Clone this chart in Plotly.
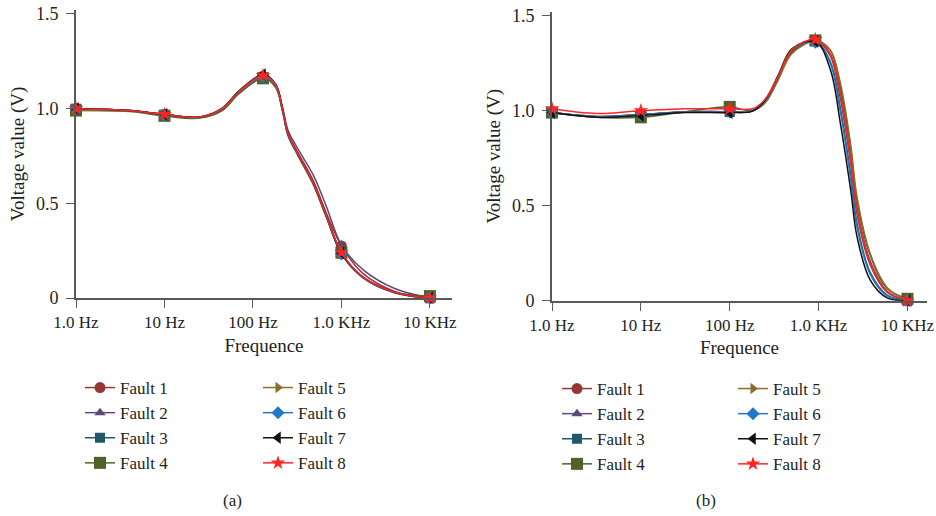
import plotly.graph_objects as go

# ---------------- data ----------------
fault_names = ["Fault 1", "Fault 2", "Fault 3", "Fault 4", "Fault 5", "Fault 6", "Fault 7", "Fault 8"]
tick_freqs = [1, 10, 100, 1000, 10000]
tick_labels = ["1.0 Hz", "10 Hz", "100 Hz", "1.0 KHz", "10 KHz"]
y_ticks = [0, 0.5, 1.0, 1.5]
y_tick_labels = ["0", "0.5", "1.0", "1.5"]

# panel (a): frequencies (Hz) at which the curves were read
freq_a = [1, 4, 10, 25, 45, 70, 130, 180, 215, 250, 320, 480, 680, 1000, 1750, 4000, 10000]
marker_idx_a = [0, 2, 6, 13, 16]
volt_a_f1 = [1.00, 0.99, 0.970, 0.955, 1.000, 1.090, 1.170, 1.125, 1.000, 0.870, 0.770, 0.620, 0.445, 0.275, 0.130, 0.035, 0.0]
volt_a_f2 = [1.00, 0.99, 0.970, 0.955, 0.995, 1.085, 1.165, 1.128, 1.010, 0.885, 0.790, 0.650, 0.480, 0.280, 0.150, 0.050, 0.0]
volt_a_f3 = [1.00, 0.99, 0.968, 0.953, 0.995, 1.085, 1.165, 1.118, 0.995, 0.860, 0.760, 0.605, 0.425, 0.235, 0.108, 0.028, 0.0]
volt_a_f4 = [0.99, 0.985, 0.962, 0.950, 0.990, 1.080, 1.160, 1.112, 0.990, 0.855, 0.755, 0.600, 0.425, 0.240, 0.110, 0.030, 0.01]
volt_a_f5 = [0.99, 0.988, 0.968, 0.954, 0.997, 1.087, 1.168, 1.120, 0.998, 0.862, 0.762, 0.610, 0.430, 0.240, 0.110, 0.030, 0.0]
volt_a_f6 = [1.00, 0.99, 0.968, 0.955, 1.000, 1.090, 1.170, 1.122, 0.995, 0.860, 0.760, 0.605, 0.428, 0.232, 0.108, 0.028, 0.0]
volt_a_f7 = [1.00, 0.99, 0.970, 0.956, 1.003, 1.095, 1.180, 1.130, 1.005, 0.865, 0.765, 0.610, 0.430, 0.238, 0.110, 0.030, 0.0]
volt_a_f8 = [1.00, 0.99, 0.970, 0.956, 1.002, 1.092, 1.175, 1.127, 1.002, 0.865, 0.765, 0.610, 0.430, 0.240, 0.110, 0.030, 0.0]

# panel (b)
freq_b = [1, 3.2, 10, 32, 100, 180, 250, 350, 500, 920, 1350, 1750, 2300, 2700, 3800, 5900, 10000]
marker_idx_b = [0, 2, 4, 9, 16]
volt_b_f1 = [0.99, 0.970, 0.980, 0.995, 0.995, 1.000, 1.050, 1.170, 1.310, 1.370, 1.29, 1.07, 0.72, 0.46, 0.19, 0.045, 0.0]
volt_b_f2 = [0.99, 0.970, 0.980, 0.995, 0.995, 1.000, 1.050, 1.170, 1.310, 1.375, 1.30, 1.10, 0.75, 0.49, 0.21, 0.050, 0.0]
volt_b_f3 = [0.99, 0.968, 0.978, 0.993, 0.993, 0.998, 1.050, 1.175, 1.315, 1.365, 1.26, 1.02, 0.66, 0.41, 0.15, 0.030, 0.0]
volt_b_f4 = [0.99, 0.965, 0.965, 0.995, 1.020, 1.000, 1.045, 1.165, 1.305, 1.370, 1.32, 1.13, 0.80, 0.53, 0.24, 0.065, 0.01]
volt_b_f5 = [0.99, 0.968, 0.978, 0.993, 0.993, 0.998, 1.040, 1.160, 1.300, 1.365, 1.32, 1.15, 0.82, 0.55, 0.25, 0.070, 0.0]
volt_b_f6 = [0.99, 0.968, 0.978, 0.993, 0.993, 0.998, 1.050, 1.180, 1.320, 1.360, 1.25, 1.00, 0.64, 0.39, 0.14, 0.025, 0.0]
volt_b_f7 = [0.99, 0.965, 0.975, 0.990, 0.990, 0.998, 1.055, 1.185, 1.325, 1.365, 1.22, 0.94, 0.58, 0.34, 0.11, 0.015, 0.0]
volt_b_f8 = [1.01, 0.985, 1.000, 1.010, 1.010, 1.010, 1.060, 1.180, 1.320, 1.375, 1.30, 1.09, 0.74, 0.48, 0.20, 0.050, 0.0]

volts_a = [volt_a_f1, volt_a_f2, volt_a_f3, volt_a_f4, volt_a_f5, volt_a_f6, volt_a_f7, volt_a_f8]
volts_b = [volt_b_f1, volt_b_f2, volt_b_f3, volt_b_f4, volt_b_f5, volt_b_f6, volt_b_f7, volt_b_f8]

# ---------------- styles ----------------
colors = ["#953735", "#5f497a", "#215968", "#4f6228", "#8c6d2c", "#1f78c8", "#111111", "#ff2525"]
symbols = ["circle", "triangle-up", "square", "square", "triangle-right", "diamond", "triangle-left", "star"]
msizes = [11, 10, 10, 12, 10, 10, 11, 11]

FONT = "Liberation Serif, Times New Roman, serif"
TXT = "#231f20"
AX = "#595959"

fig = go.Figure()

panels = [
    (freq_a, marker_idx_a, volts_a, "x", "y", ("legend", "legend2")),
    (freq_b, marker_idx_b, volts_b, "x2", "y2", ("legend3", "legend4")),
]

for freqs, midx, volts, xa, ya, legs in panels:
    for i, name in enumerate(fault_names):
        vals = volts[i]
        fig.add_trace(go.Scatter(
            x=freqs, y=vals, mode="lines", xaxis=xa, yaxis=ya,
            line=dict(color=colors[i], width=1.5, shape="spline", smoothing=1.0),
            showlegend=False, hoverinfo="skip", cliponaxis=False))
        fig.add_trace(go.Scatter(
            x=[freqs[k] for k in midx], y=[vals[k] for k in midx], mode="markers",
            xaxis=xa, yaxis=ya,
            marker=dict(color=colors[i], symbol=symbols[i], size=msizes[i], line=dict(width=0)),
            showlegend=False, cliponaxis=False))
        # legend entry (line + marker)
        fig.add_trace(go.Scatter(
            x=[None], y=[None], mode="lines+markers", name=name, xaxis=xa, yaxis=ya,
            line=dict(color=colors[i], width=1.5),
            marker=dict(color=colors[i], symbol=symbols[i], size=msizes[i], line=dict(width=0)),
            legend=legs[0] if i < 4 else legs[1]))

W, H = 936, 516

def px_x(p):
    return p / W

def px_y(p):
    return 1 - p / H

axis_common = dict(
    showline=True, linecolor=AX, linewidth=1.6, ticks="outside", ticklen=8, tickwidth=1.4,
    tickcolor=AX, showgrid=False, zeroline=False, automargin=False,
)
xtickfont = dict(family=FONT, size=17, color=TXT)
ytickfont = dict(family=FONT, size=18, color=TXT)
title_font = dict(family=FONT, size=19, color=TXT)

fig.update_layout(
    width=W, height=H, margin=dict(l=0, r=0, t=0, b=0, autoexpand=False),
    paper_bgcolor="white", plot_bgcolor="white",
    xaxis=dict(domain=[px_x(76), px_x(452)], type="log", range=[0, 4.25], anchor="y",
               tickvals=tick_freqs, ticktext=tick_labels, tickfont=xtickfont,
               title=dict(text="Frequence", font=title_font, standoff=7),
               **axis_common),
    yaxis=dict(domain=[px_y(298), px_y(10)], range=[0, 1.521], anchor="x",
               tickvals=y_ticks, ticktext=y_tick_labels, tickfont=ytickfont, ticklabelstandoff=4,
               title=dict(text="Voltage value (V)", font=title_font, standoff=6),
               **axis_common),
    xaxis2=dict(domain=[px_x(552), px_x(927)], type="log", range=[0, 4.22], anchor="y2",
                tickvals=tick_freqs, ticktext=tick_labels, tickfont=xtickfont,
                title=dict(text="Frequence", font=title_font, standoff=7),
                **axis_common),
    yaxis2=dict(domain=[px_y(300.7), px_y(11.7)], range=[0, 1.521], anchor="x2",
                tickvals=y_ticks, ticktext=y_tick_labels, tickfont=ytickfont, ticklabelstandoff=4,
                title=dict(text="Voltage value (V)", font=title_font, standoff=6),
                **axis_common),
)

leg_common = dict(font=dict(family=FONT, size=17, color=TXT), bgcolor="rgba(0,0,0,0)",
                  xanchor="left", yanchor="top", tracegroupgap=0, itemwidth=30)
fig.update_layout(
    legend=dict(x=px_x(80), y=px_y(370), **leg_common),
    legend2=dict(x=px_x(258), y=px_y(370), **leg_common),
    legend3=dict(x=px_x(557), y=px_y(371), **leg_common),
    legend4=dict(x=px_x(733), y=px_y(371), **leg_common),
)

fig.add_annotation(text="(a)", x=px_x(232), y=px_y(500), xref="paper", yref="paper",
                   xanchor="center", yanchor="middle",
                   showarrow=False, font=dict(family=FONT, size=17, color=TXT))
fig.add_annotation(text="(b)", x=px_x(706), y=px_y(500), xref="paper", yref="paper",
                   xanchor="center", yanchor="middle",
                   showarrow=False, font=dict(family=FONT, size=17, color=TXT))

fig.write_html("out.html")
